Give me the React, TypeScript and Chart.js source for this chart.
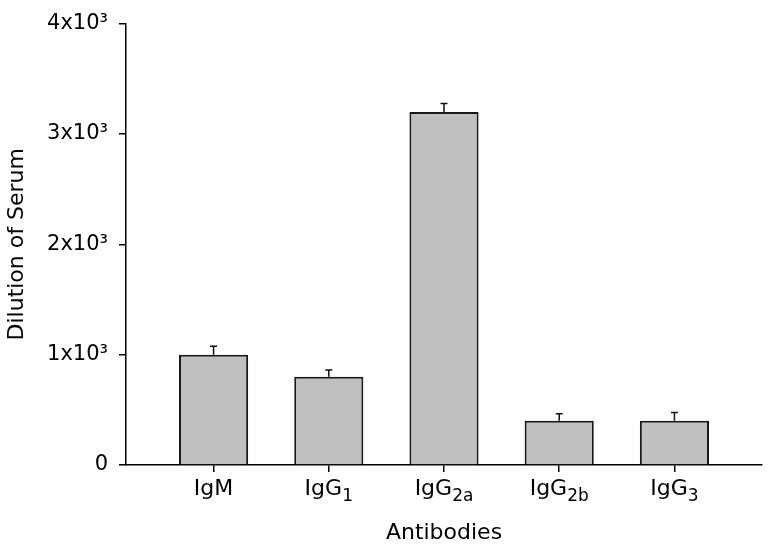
import React, { useEffect, useRef } from 'react';
import { Chart, registerables } from 'chart.js';

Chart.register(...registerables);

// ---- data ----
const categories = ['IgM', 'IgG', 'IgG', 'IgG', 'IgG'];
const subscripts = ['', '1', '2a', '2b', '3'];
const positions = [1, 2, 3, 4, 5];
const values = [1000, 800, 3200, 400, 400];
const errors = [75, 60, 75, 65, 75];
const yTicks = [0, 1000, 2000, 3000, 4000];
const yTickLabels = ['0', '1x10³', '2x10³', '3x10³', '4x10³'];
const yTitle = 'Dilution of Serum';
const xTitle = 'Antibodies';

const FAMILY = '"DejaVu Sans", "Liberation Sans", Arial, sans-serif';

const errorBarPlugin = {
  id: 'errorBars',
  afterDatasetsDraw(chart: any) {
    const meta = chart.getDatasetMeta(0);
    const ys = chart.scales.y;
    const ctx = chart.ctx;
    ctx.save();
    ctx.strokeStyle = '#111';
    ctx.lineWidth = 1.5;
    meta.data.forEach((bar: any, i: number) => {
      const x = bar.x;
      const yTop = bar.y;
      const yErr = ys.getPixelForValue(values[i] + errors[i]);
      ctx.beginPath();
      ctx.moveTo(x, yTop);
      ctx.lineTo(x, yErr);
      ctx.moveTo(x - 3.5, yErr);
      ctx.lineTo(x + 3.5, yErr);
      ctx.stroke();
    });
    ctx.restore();
  },
};

const xLabelPlugin = {
  id: 'xLabels',
  afterDraw(chart: any) {
    const xs = chart.scales.x;
    const ctx = chart.ctx;
    const baseFont = `22px ${FAMILY}`;
    const subFont = `17px ${FAMILY}`;
    const baseline = xs.top + 30;
    ctx.save();
    ctx.fillStyle = '#000';
    ctx.textAlign = 'left';
    ctx.textBaseline = 'alphabetic';
    positions.forEach((p, i) => {
      const px = xs.getPixelForValue(p);
      ctx.font = baseFont;
      const wb = ctx.measureText(categories[i]).width;
      ctx.font = subFont;
      const ws = subscripts[i] ? ctx.measureText(subscripts[i]).width : 0;
      const start = px - (wb + ws) / 2;
      ctx.font = baseFont;
      ctx.fillText(categories[i], start, baseline);
      if (subscripts[i]) {
        ctx.font = subFont;
        ctx.fillText(subscripts[i], start + wb, baseline + 6);
      }
    });
    ctx.restore();
  },
};

export default function App() {
  const ref = useRef<HTMLCanvasElement | null>(null);

  useEffect(() => {
    if (!ref.current) return;
    const chart = new Chart(ref.current, {
      type: 'bar',
      data: {
        datasets: [
          {
            data: positions.map((p, i) => ({ x: p, y: values[i] })),
            backgroundColor: '#c0c0c0',
            borderColor: '#1a1a1a',
            borderWidth: 2,
            barPercentage: 0.6,
            categoryPercentage: 1.0,
          },
        ],
      },
      options: {
        animation: false,
        responsive: false,
        maintainAspectRatio: false,
        layout: { padding: { top: 20, right: 8, left: 0, bottom: 0 } },
        plugins: { legend: { display: false }, tooltip: { enabled: false } },
        scales: {
          x: {
            type: 'linear',
            offset: false,
            min: 0.24,
            max: 5.76,
            afterBuildTicks: (s: any) => {
              s.ticks = positions.map((v) => ({ value: v }));
            },
            afterFit: (s: any) => {
              s.height = 84;
            },
            ticks: { display: false },
            grid: {
              offset: false,
              drawOnChartArea: false,
              drawTicks: true,
              tickLength: 7,
              color: '#000',
              lineWidth: 1.5,
            },
            border: { display: true, color: '#000', width: 1.5 },
            title: {
              display: true,
              text: xTitle,
              color: '#000',
              font: { size: 22, family: FAMILY },
              padding: { top: 0, bottom: 3 },
            },
          },
          y: {
            type: 'linear',
            min: 0,
            max: 4000,
            afterBuildTicks: (s: any) => {
              s.ticks = yTicks.map((v) => ({ value: v }));
            },
            afterFit: (s: any) => {
              s.width = 126;
            },
            ticks: {
              callback: (_v: any, i: number) => yTickLabels[i],
              color: '#000',
              font: { size: 21, family: FAMILY },
              padding: 11,
            },
            grid: {
              drawOnChartArea: false,
              drawTicks: true,
              tickLength: 7,
              color: '#000',
              lineWidth: 1.5,
            },
            border: { display: true, color: '#000', width: 1.5 },
            title: {
              display: true,
              text: yTitle,
              color: '#000',
              font: { size: 22, family: FAMILY },
              padding: { top: 4, bottom: 0 },
            },
          },
        },
      },
      plugins: [errorBarPlugin, xLabelPlugin],
    } as any);
    return () => chart.destroy();
  }, []);

  return (
    <div style={{ position: 'fixed', left: 0, top: 0, width: 770, height: 549, background: '#fff' }}>
      <canvas ref={ref} width={770} height={549} />
    </div>
  );
}
